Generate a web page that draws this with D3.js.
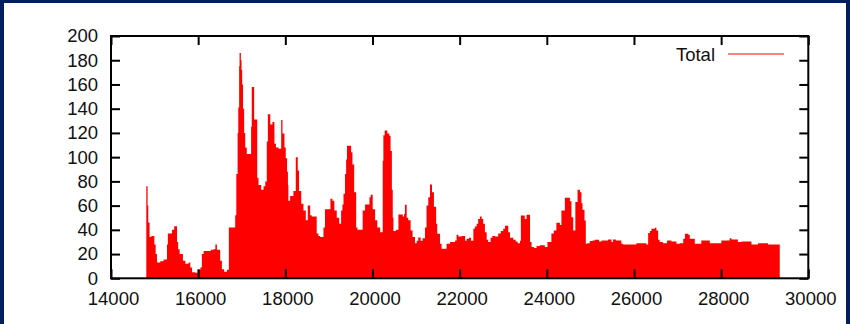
<!DOCTYPE html>
<html><head><meta charset="utf-8">
<script src="https://cdn.jsdelivr.net/npm/d3@7"></script>
<style>
html,body{margin:0;padding:0;background:#001e60;}
svg{display:block;}
text{font-family:"Liberation Sans",Arial,sans-serif;}
</style>
</head><body>
<svg id="chart" width="850" height="324"></svg>
<script>
const seriesName = "Total";
const binStarts = [14810,14840,14855,14885,14925,14995,15025,15055,15130,15205,15285,15305,15400,15450,15515,15540,15575,15650,15705,15780,15820,15860,15935,15985,16050,16085,16125,16290,16350,16395,16430,16505,16545,16595,16660,16705,16850,16875,16905,16920,16940,16950,16980,16995,17010,17030,17055,17080,17115,17215,17230,17285,17355,17385,17445,17500,17540,17575,17600,17655,17705,17750,17785,17845,17905,17935,17980,18010,18040,18060,18070,18110,18185,18240,18285,18315,18365,18415,18470,18515,18570,18605,18720,18760,18800,18875,18910,19035,19080,19125,19180,19235,19280,19310,19335,19370,19395,19415,19510,19540,19580,19625,19655,19775,19830,19930,19960,20005,20060,20110,20175,20235,20250,20280,20340,20385,20415,20445,20465,20480,20540,20595,20695,20725,20745,20785,20820,20875,20920,20975,21015,21050,21105,21150,21205,21240,21280,21320,21365,21410,21460,21485,21550,21585,21700,21780,21895,21930,21970,22045,22125,22160,22215,22260,22315,22350,22390,22425,22465,22505,22540,22580,22620,22655,22710,22750,22810,22885,22945,23000,23040,23115,23155,23230,23285,23330,23385,23405,23495,23535,23615,23650,23705,23765,23840,23955,24015,24105,24160,24220,24300,24335,24415,24530,24565,24605,24655,24705,24760,24795,24820,24865,24895,24925,24985,25050,25100,25200,25255,25405,25485,25520,25585,25710,25750,26055,26285,26325,26365,26400,26480,26515,26555,26590,26665,26760,26860,26975,27050,27130,27170,27245,27280,27395,27545,27740,28005,28195,28235,28385,28465,28695,28845,29075];
const totals = [76,60,46,34,35,28,20,13,14,15.5,28,37,40,43,30,24,20,14.5,12,13,9,5,4.5,7,9,20,22.5,23.5,24,28,23.5,14.5,7.5,5.5,7,42,52,86,120,141,175,186,180,172,160,140,120,108,102.6,125,158,131,83,77,73,76,80,113,135.5,127,129,111,108,107,130.6,119.6,108,99,88,77,64,68,72,100,89,72,61.5,56,48,60,52,51,37,35,34,42,57,65.6,64,56,50,45,56,61,69.7,86,98,109.5,104,94,71,42,40,56,61,67,69,57,48,42,38,97,118,122,119.6,117.7,105,73,50,39,40,52.7,51,53,60.7,50,48,39.5,34,29,31,33.7,31,33,42,60,67,77.4,71,59,45,36.7,28.5,24.4,28.5,30,31.3,36,34.5,35,31,32.6,33.5,31,40.8,42.8,45,49,51,49,45,38,31.8,30,33.5,35,34.5,37,39,40.8,43.4,38,33.5,31.8,30.4,29,31,51.8,49,52.4,30,25.8,25,26.6,27.2,25.8,30,37,39.5,45.8,44,56,66.4,63.6,50.4,39.5,63,73,71,62,56.5,47.7,28.5,29,30.7,31.3,31.8,30.4,31.3,32,30,32,31.3,28.5,28,29,28,37.3,39,40.8,41.7,39.5,31.8,30,29,31.3,30.4,28.5,29,32.6,36.7,36,32.6,28.5,31.3,29,31.3,33,32,30,30.4,28,29,28];
const lastBinEnd = 29345;
const xTicks = [14000,16000,18000,20000,22000,24000,26000,28000,30000];
const yTicks = [0,20,40,60,80,100,120,140,160,180,200];

const svg = d3.select("#chart");
svg.append("rect").attr("x",0).attr("y",0).attr("width",850).attr("height",324).attr("fill","#001e60");
svg.append("rect").attr("x",4).attr("y",3).attr("width",842).attr("height",330).attr("fill","#ffffff");

const L=111, R=808.3, T=36, B=278.3;
const x = d3.scaleLinear().domain([14000,30000]).range([L,R]);
const y = d3.scaleLinear().domain([0,200]).range([B,T]);

const pts = binStarts.map((b,i)=>({x:b, v:totals[i]}));
pts.push({x:lastBinEnd, v:totals[totals.length-1]});

svg.append("path")
  .datum(pts)
  .attr("fill","#ff0000")
  .attr("d", d3.area().x(d=>x(d.x)).y0(y(0)).y1(d=>y(d.v)).curve(d3.curveStepAfter));

const fs = "18.5px";
function style(g){
  g.select(".domain").remove();
  g.selectAll(".tick line").attr("stroke","#000").attr("stroke-width",2);
  g.selectAll(".tick text").attr("fill","#111").style("font-size",fs).style("font-family",'"Liberation Sans",Arial,sans-serif');
}
svg.append("g").attr("transform",`translate(0,${B})`)
  .call(d3.axisBottom(x).tickValues(xTicks).tickSize(-9).tickPadding(13.5).tickFormat(d3.format("d")))
  .call(style).call(g=>g.selectAll(".tick text").attr("dx",2));
svg.append("g").attr("transform",`translate(0,${T})`)
  .call(d3.axisTop(x).tickValues(xTicks).tickSize(-9).tickFormat(""))
  .call(style);
svg.append("g").attr("transform",`translate(${L},0)`)
  .call(d3.axisLeft(y).tickValues(yTicks).tickSize(-9).tickPadding(13).tickFormat(d3.format("d")))
  .call(style);
svg.append("g").attr("transform",`translate(${R},0)`)
  .call(d3.axisRight(y).tickValues(yTicks).tickSize(-9).tickFormat(""))
  .call(style);

svg.append("rect").attr("x",L).attr("y",T).attr("width",R-L).attr("height",B-T)
  .attr("fill","none").attr("stroke","#000").attr("stroke-width",2);

svg.append("text").attr("x",715).attr("y",60.5).attr("text-anchor","end")
  .style("font-size",fs).attr("fill","#111").text(seriesName);
svg.append("line").attr("x1",728).attr("x2",784).attr("y1",54).attr("y2",54)
  .attr("stroke","#ff0000").attr("stroke-width",1);
</script>
</body></html>
